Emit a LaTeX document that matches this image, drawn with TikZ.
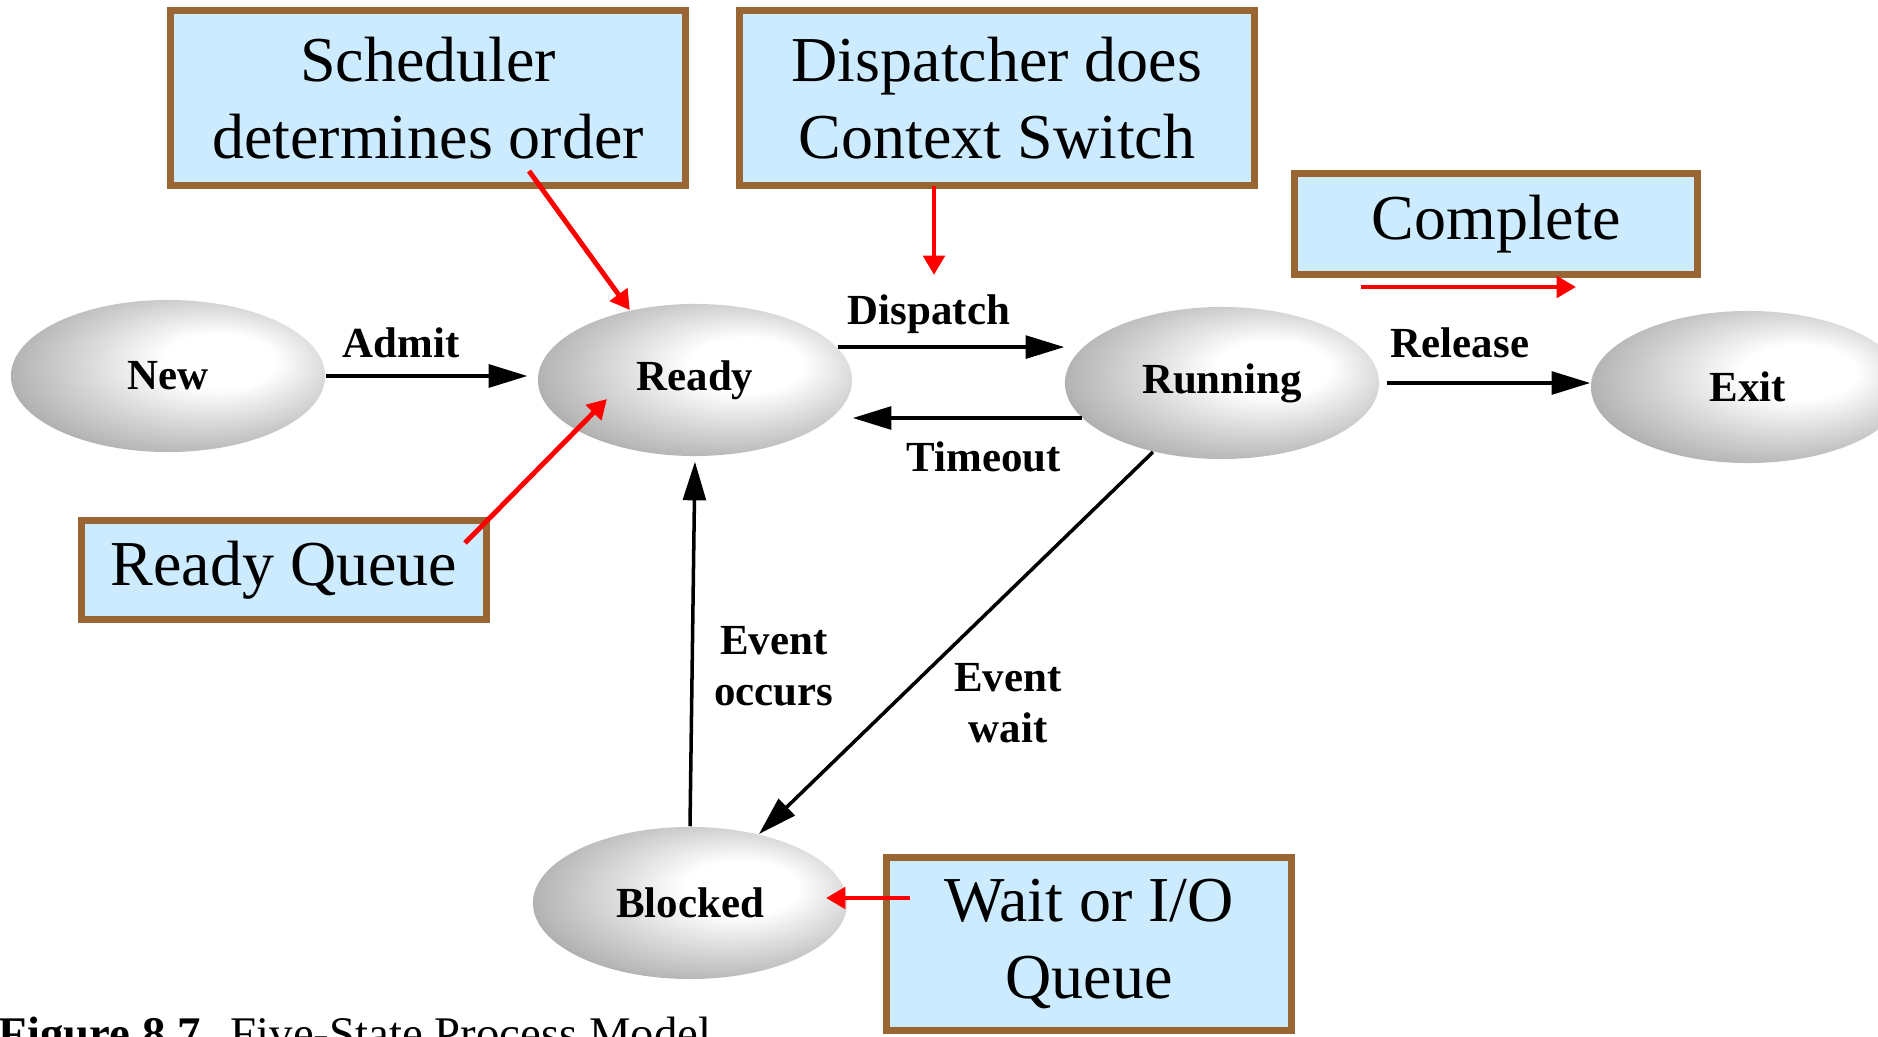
\documentclass[tikz,border=0pt]{standalone}
\usepackage{fontspec}
\setmainfont{Liberation Serif}
\usetikzlibrary{arrows.meta,shapes.geometric,calc}
\pgfdeclareradialshading{ballshade}{\pgfpoint{10bp}{6bp}}{color(0bp)=(white); color(9bp)=(white); color(28bp)=(black!28); color(44bp)=(black!58); color(50bp)=(black!66)}
\definecolor{boxfill}{RGB}{204,235,255}
\definecolor{boxedge}{RGB}{153,102,51}
\definecolor{redarr}{RGB}{255,0,0}
\begin{document}
\begin{tikzpicture}[x=0.01cm,y=-0.01cm,
 state/.style={ellipse, shade, shading=ballshade, minimum width=3.14cm, minimum height=1.52cm, inner sep=0pt, font=\fontsize{12.2}{14}\selectfont\bfseries},
 lbl/.style={font=\fontsize{12.2}{14.5}\selectfont\bfseries, align=center, inner sep=0pt},
 note/.style={draw=boxedge, line width=2pt, fill=boxfill, align=center, inner sep=0pt, font=\fontsize{18.2}{21.9}\selectfont},
 trans/.style={line width=1pt, -{Triangle[length=11pt,width=6.5pt]}},
 hint/.style={draw=redarr, line width=1.4pt, -{Triangle[length=5.5pt,width=6pt]}}]
\path[use as bounding box, clip] (0,0) rectangle (1878,1037);

% states
\node[state] (new) at (168,376) {New};
\node[state] (ready) at (695,380) {Ready};
\node[state] (running) at (1222,383) {Running};
\node[state] (exit) at (1748,387) {Exit};
\node[state] (blocked) at (690,903) {Blocked};

% transitions
\draw[trans, shorten >=2.8pt] (new.east) -- (ready.west |- new.east);
\draw[trans] (ready.13) -- (running.west |- ready.13);
\draw[trans] (running.194) -- (ready.east |- running.194);
\draw[trans, shorten <=2pt] (running.east) -- (exit.west |- running.east);
\draw[trans, shorten >=1.4pt] (blocked.north) -- (ready.south);
\draw[trans] (running.225) -- (blocked.45);

% transition labels
\node[lbl] (admitlbl) at (401,343) {Admit};
\node[lbl] (displbl) at (929,314) {Dispatch};
\node[lbl] (timelbl) at (984,457) {Timeout};
\node[lbl] (rellbl) at (1460,343) {Release};
\node[lbl] (occlbl) at (774,666) {Event\\occurs};
\node[lbl] (waitlbl) at (1008,703) {Event\\wait};

% annotation boxes
\node[note, minimum width=5.14cm, minimum height=1.75cm] (sched) at (428,98) {Scheduler\\determines order};
\node[note, minimum width=5.14cm, minimum height=1.75cm] (disp) at (997,98) {Dispatcher does\\Context Switch};
\node[note, minimum width=4.03cm, minimum height=1.01cm] (compl) at (1496,224) {Complete};
\node[note, minimum width=4.04cm, minimum height=0.99cm] (rq) at (284,570) {Ready Queue};
\node[note, minimum width=4.04cm, minimum height=1.72cm] (wq) at (1089,944) {Wait or I/O\\Queue};

% red pointers
\coordinate (s1) at (529,171);
\draw[hint] (s1) -- (ready.133);
\coordinate (d1) at (934,186);
\coordinate (d2) at (934,275);
\draw[hint] (d1) -- (d2);
\coordinate (c1) at (1361,287);
\coordinate (c2) at (1576,287);
\draw[hint] (c1) -- (c2);
\coordinate (r1) at (465,543);
\coordinate (r2) at (607,399);
\draw[hint] (r1) -- (r2);
\coordinate (w1) at (910,898);
\coordinate (w2) at (826,898);
\draw[hint] (w1) -- (w2);

% caption (cut off at the bottom, as in the reference)
\node[anchor=base west, inner sep=0pt, font=\fontsize{13.3}{15}\selectfont\bfseries] (cap1) at (-2,1050) {Figure 8.7};
\node[anchor=base west, inner sep=0pt, font=\fontsize{13.3}{15}\selectfont] (cap2) at (230,1050) {Five-State Process Model};
\end{tikzpicture}
\end{document}
